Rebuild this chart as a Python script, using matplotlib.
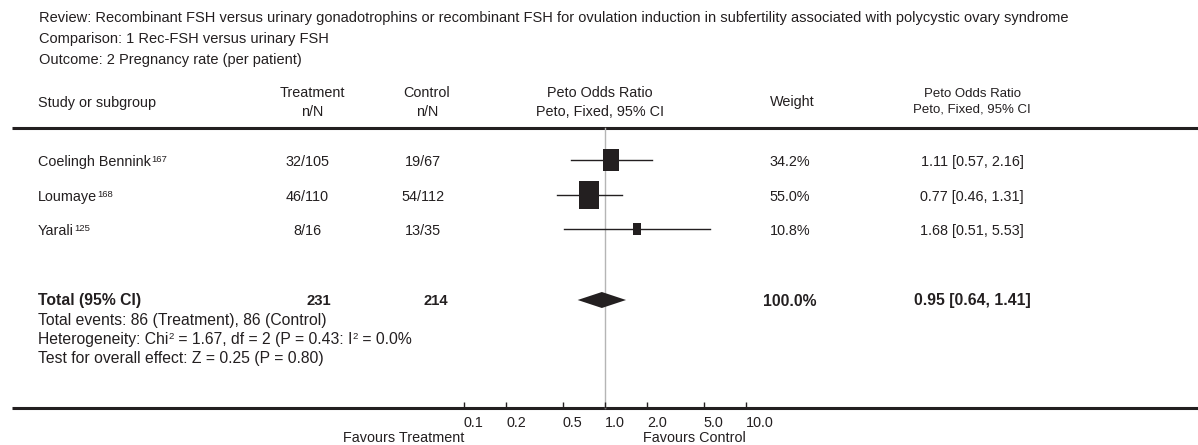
import numpy as np
import matplotlib
matplotlib.use("Agg")
import matplotlib.pyplot as plt

plt.rcParams['font.family'] = ['Liberation Sans', 'DejaVu Sans']

# Data
title_lines = [
    "Review: Recombinant FSH versus urinary gonadotrophins or recombinant FSH for ovulation induction in subfertility associated with polycystic ovary syndrome",
    "Comparison: 1 Rec-FSH versus urinary FSH",
    "Outcome: 2 Pregnancy rate (per patient)",
]
studies = ["Coelingh Bennink", "Loumaye", "Yarali"]
refs = ["167", "168", "125"]
treatment = ["32/105", "46/110", "8/16"]
control = ["19/67", "54/112", "13/35"]
weights = [34.2, 55.0, 10.8]
odds = [1.11, 0.77, 1.68]
ci_low = [0.57, 0.46, 0.51]
ci_high = [2.16, 1.31, 5.53]

total_treat = 231
total_ctrl = 214
total_weight = 100.0
total_or = 0.95
total_low = 0.64
total_high = 1.41
events_line = "Total events: 86 (Treatment), 86 (Control)"
hetero_parts = [("Heterogeneity: Chi", False), ("2", True), (" = 1.67, df = 2 (P = 0.43: I", False),
                ("2", True), (" = 0.0%", False)]
effect_line = "Test for overall effect: Z = 0.25 (P = 0.80)"
ticks = [0.1, 0.2, 0.5, 1.0, 2.0, 5.0, 10.0]
tick_labels = ["0.1", "0.2", "0.5", "1.0", "2.0", "5.0", "10.0"]

W, H = 1198, 445
ink = '#231f20'
fs = 10.4
fs_tot = 11.3
fs_sup = 6.8

fig = plt.figure(figsize=(W / 100, H / 100), dpi=100)
ax = fig.add_axes([0, 0, 1, 1])
ax.set_xlim(0, W)
ax.set_ylim(H, 0)
ax.axis('off')


def rich_text(x, y, parts, size):
    # text with small superscripts, pieces chained after each other
    base = ax.text(x, y, parts[0][0], fontsize=size, color=ink, va='center')
    prev = base
    for s, is_sup in parts[1:]:
        if is_sup:
            prev = ax.annotate(s, xy=(1, 1.0), xycoords=(prev, base), fontsize=fs_sup,
                               color=ink, va='top', ha='left')
        else:
            prev = ax.annotate(s, xy=(1, 0.5), xycoords=(prev, base), fontsize=size,
                               color=ink, va='center', ha='left')
    return base


# header text
for i, line in enumerate(title_lines):
    ax.text(39, 18 + 21 * i, line, fontsize=10.55, color=ink, va='center', ha='left')

ax.text(38, 103, "Study or subgroup", fontsize=fs, color=ink, va='center')
ax.text(312, 93, "Treatment", fontsize=fs, color=ink, va='center', ha='center')
ax.text(312, 112, "n/N", fontsize=fs, color=ink, va='center', ha='center')
ax.text(427, 93, "Control", fontsize=fs, color=ink, va='center', ha='center')
ax.text(427, 112, "n/N", fontsize=fs, color=ink, va='center', ha='center')
ax.text(600, 93, "Peto Odds Ratio", fontsize=fs, color=ink, va='center', ha='center')
ax.text(600, 112, "Peto, Fixed, 95% CI", fontsize=fs, color=ink, va='center', ha='center')
ax.text(792, 102, "Weight", fontsize=fs, color=ink, va='center', ha='center')
ax.text(972, 94, "Peto Odds Ratio", fontsize=9.5, color=ink, va='center', ha='center')
ax.text(972, 110, "Peto, Fixed, 95% CI", fontsize=9.5, color=ink, va='center', ha='center')

ax.plot([12, W], [128, 128], color=ink, lw=2.2, solid_capstyle='butt')
ax.plot([12, W], [408, 408], color=ink, lw=2.2, solid_capstyle='butt')

# study rows
row_y = [160, 195, 229]
for i in range(len(studies)):
    y = row_y[i] + 2
    rich_text(38, y, [(studies[i], False), (refs[i], True)], fs)
    ax.text(307, y, treatment[i], fontsize=fs, color=ink, va='center', ha='center')
    ax.text(423, y, control[i], fontsize=fs, color=ink, va='center', ha='center')
    ax.text(790, y, f"{weights[i]:.1f}%", fontsize=fs, color=ink, va='center', ha='center')
    ax.text(972, y, f"{odds[i]:.2f} [{ci_low[i]:.2f}, {ci_high[i]:.2f}]",
            fontsize=fs, color=ink, va='center', ha='center')

# total row
ty = 301
ax.text(38, ty, "Total (95% CI)", fontsize=fs_tot, color=ink, va='center', fontweight='bold')
ax.text(331, ty, str(total_treat), fontsize=10.6, color=ink, va='center', ha='right', fontweight='bold')
ax.text(448, ty, str(total_ctrl), fontsize=10.6, color=ink, va='center', ha='right', fontweight='bold')
ax.text(790, ty, f"{total_weight:.1f}%", fontsize=fs_tot, color=ink, va='center', ha='center', fontweight='bold')
ax.text(972, ty, f"{total_or:.2f} [{total_low:.2f}, {total_high:.2f}]",
        fontsize=fs_tot, color=ink, va='center', ha='center', fontweight='bold')
ax.text(38, 320, events_line, fontsize=fs_tot, color=ink, va='center')
rich_text(38, 339.5, hetero_parts, fs_tot)
ax.text(38, 359, effect_line, fontsize=fs_tot, color=ink, va='center')

ax.text(404, 438, "Favours Treatment", fontsize=fs, color=ink, va='center', ha='center')
ax.text(694, 438, "Favours Control", fontsize=fs, color=ink, va='center', ha='center')

# forest axes (log scale)
fax = fig.add_axes([464 / W, 0, 282 / W, 1])
fax.set_xscale('log')
fax.set_xlim(0.1, 10)
fax.set_ylim(H, 0)
fax.patch.set_alpha(0)
for s in ['top', 'left', 'right', 'bottom']:
    fax.spines[s].set_visible(False)
fax.set_yticks([])
fax.set_xticks(ticks)
fax.set_xticklabels(tick_labels)
fax.minorticks_off()
fax.xaxis.set_ticks_position('bottom')
fax.spines['bottom'].set_position(('data', 408))
fax.tick_params(axis='x', direction='in', length=4.5, width=1, color=ink,
                labelsize=fs, labelcolor=ink, pad=5.5)
for lab in fax.get_xticklabels():
    lab.set_horizontalalignment('left')

fax.plot([1, 1], [128, 408], color='#b5b5b5', lw=1, zorder=1)

box = [(-0.74, -1), (0.74, -1), (0.74, 1), (-0.74, 1), (-0.74, -1)]
for i in range(len(studies)):
    y = row_y[i]
    fax.plot([ci_low[i], ci_high[i]], [y, y], color=ink, lw=1, zorder=2)
    size = 3.65 * np.sqrt(weights[i]) * 0.72
    fax.plot([odds[i]], [y], marker=box, markersize=size, color=ink, mew=0, zorder=3)

fax.fill([total_low, total_or, total_high, total_or], [ty - 1, ty - 9, ty - 1, ty + 7],
         color=ink, lw=0, zorder=3)

fig.savefig("out.png", dpi=100)
